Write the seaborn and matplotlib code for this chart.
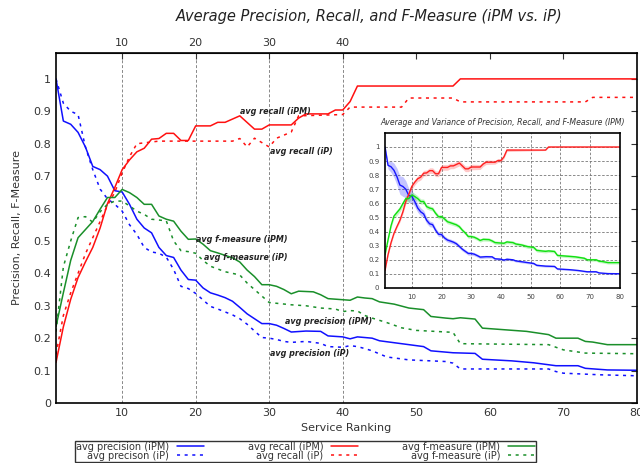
import numpy as np
import matplotlib
matplotlib.use("Agg")
import matplotlib.pyplot as plt
import seaborn as sns

# Values (rank -> value)
rec_ipm_x = [1, 2, 3, 4, 5, 6, 7, 8, 9, 10, 11, 12, 13, 14, 15, 16, 17, 18, 19, 20, 22, 23, 24, 26, 28, 29,
             30, 33, 34, 35, 38, 39, 40, 41, 42, 55, 56, 80]
rec_ipm_y = [0.125, 0.235, 0.32, 0.387, 0.435, 0.48, 0.54, 0.615, 0.665, 0.72, 0.75, 0.775, 0.786, 0.814,
             0.816, 0.832, 0.832, 0.81, 0.81, 0.855, 0.855, 0.866, 0.866, 0.886, 0.845, 0.845, 0.858, 0.858,
             0.879, 0.892, 0.892, 0.904, 0.904, 0.93, 0.978, 0.978, 1.0, 1.0]

rec_ip_x = [1, 2, 3, 4, 5, 6, 7, 8, 9, 10, 11, 12, 15, 25, 26, 27, 28, 30, 31, 33, 34, 40, 41, 48, 49,
            55, 56, 73, 74, 80]
rec_ip_y = [0.15, 0.27, 0.34, 0.4, 0.46, 0.51, 0.56, 0.61, 0.65, 0.71, 0.76, 0.8, 0.808, 0.808, 0.816,
            0.79, 0.817, 0.79, 0.817, 0.836, 0.886, 0.89, 0.913, 0.913, 0.941, 0.941, 0.929, 0.929, 0.943,
            0.943]

prec_ipm_x = [1, 2, 3, 4, 5, 6, 7, 8, 9, 10, 11, 12, 13, 14, 15, 16, 17, 18, 19, 20, 21, 22, 23, 24, 25,
              26, 27, 28, 29, 30, 31, 32, 33, 35, 37, 38, 40, 41, 42, 44, 45, 47, 50, 51, 52, 55, 58, 59,
              63, 66, 69, 72, 73, 76, 80]
prec_ipm_y = [1.0, 0.87, 0.86, 0.835, 0.79, 0.73, 0.72, 0.70, 0.655, 0.651, 0.613, 0.567, 0.54, 0.525,
              0.48, 0.455, 0.449, 0.41, 0.381, 0.379, 0.355, 0.34, 0.333, 0.325, 0.314, 0.295, 0.275,
              0.26, 0.245, 0.245, 0.24, 0.23, 0.219, 0.222, 0.221, 0.207, 0.204, 0.198, 0.204, 0.2,
              0.192, 0.186, 0.177, 0.174, 0.161, 0.155, 0.153, 0.135, 0.13, 0.124, 0.115, 0.115, 0.107,
              0.102, 0.101]

prec_ip_x = [1, 2, 3, 4, 5, 6, 7, 8, 9, 10, 11, 12, 13, 14, 15, 16, 17, 18, 19, 20, 21, 22, 23, 24, 25,
             26, 27, 28, 29, 30, 31, 32, 33, 35, 37, 38, 40, 41, 42, 43, 44, 46, 48, 49, 54, 55, 56, 68,
             69, 70, 75, 80]
prec_ip_y = [1.0, 0.925, 0.9, 0.89, 0.79, 0.72, 0.66, 0.63, 0.613, 0.592, 0.55, 0.52, 0.48, 0.466, 0.462,
             0.45, 0.412, 0.36, 0.353, 0.338, 0.318, 0.298, 0.29, 0.281, 0.272, 0.26, 0.243, 0.222, 0.202,
             0.2, 0.196, 0.19, 0.187, 0.19, 0.184, 0.174, 0.172, 0.177, 0.174, 0.168, 0.161, 0.142, 0.136,
             0.133, 0.128, 0.123, 0.105, 0.105, 0.097, 0.092, 0.087, 0.084]

f_ipm_x = [1, 2, 3, 4, 5, 6, 7, 8, 9, 10, 11, 12, 13, 14, 15, 16, 17, 18, 19, 20, 21, 22, 23, 25, 26, 27,
           28, 29, 30, 31, 32, 33, 34, 36, 37, 38, 41, 42, 43, 44, 45, 47, 49, 51, 52, 54, 55, 56, 58, 59,
           62, 65, 68, 69, 72, 73, 74, 76, 80]
f_ipm_y = [0.236, 0.34, 0.44, 0.51, 0.535, 0.56, 0.598, 0.634, 0.634, 0.659, 0.649, 0.634, 0.613, 0.613,
           0.577, 0.567, 0.561, 0.53, 0.505, 0.506, 0.49, 0.47, 0.463, 0.448, 0.435, 0.41, 0.39, 0.365,
           0.365, 0.36, 0.35, 0.337, 0.345, 0.343, 0.334, 0.322, 0.317, 0.327, 0.324, 0.322, 0.312, 0.305,
           0.293, 0.288, 0.267, 0.262, 0.26, 0.263, 0.259, 0.231, 0.226, 0.221, 0.211, 0.2, 0.2, 0.19,
           0.188, 0.18, 0.18]

f_ip_x = [1, 2, 3, 4, 5, 6, 7, 8, 9, 10, 11, 12, 13, 14, 16, 17, 18, 19, 20, 21, 22, 24, 26, 27, 28, 29,
          30, 33, 35, 37, 39, 40, 41, 42, 43, 44, 46, 48, 50, 55, 56, 68, 70, 73, 80]
f_ip_y = [0.22, 0.42, 0.5, 0.572, 0.575, 0.558, 0.59, 0.613, 0.623, 0.623, 0.608, 0.592, 0.582, 0.567,
          0.562, 0.5, 0.47, 0.467, 0.462, 0.44, 0.422, 0.405, 0.395, 0.37, 0.35, 0.33, 0.31, 0.303, 0.3,
          0.293, 0.29, 0.282, 0.285, 0.284, 0.27, 0.262, 0.248, 0.232, 0.224, 0.218, 0.183, 0.18, 0.164,
          0.154, 0.152]

# spread of the iPM curves (inset bands), read at a few ranks
sd_x = [1, 3, 5, 7, 9, 12, 16, 20, 30, 40, 50, 60, 70, 80]
prec_sd = [0.01, 0.04, 0.06, 0.07, 0.05, 0.03, 0.02, 0.015, 0.012, 0.008, 0.008, 0.006, 0.005, 0.004]
rec_sd = [0.005, 0.01, 0.01, 0.015, 0.02, 0.02, 0.02, 0.02, 0.02, 0.012, 0.004, 0.002, 0.002, 0.002]
f_sd = [0.01, 0.015, 0.02, 0.02, 0.025, 0.02, 0.015, 0.015, 0.012, 0.012, 0.012, 0.01, 0.01, 0.01]

BLUE, RED, GREEN = "#1010ff", "#ff1010", "#1a8f2a"
DOT = (0, (2, 3))

sns.set_style("white")
plt.rcParams["font.family"] = ["DejaVu Sans"]

fig = plt.figure(figsize=(6.4, 4.63), dpi=100)
ax = fig.add_axes([0.0875, 0.1296, 0.9075, 0.756])

series = [
    (prec_ipm_x, prec_ipm_y, BLUE, "-", "avg precision (iPM)"),
    (prec_ip_x, prec_ip_y, BLUE, DOT, "avg precison (iP)"),
    (rec_ipm_x, rec_ipm_y, RED, "-", "avg recall (iPM)"),
    (rec_ip_x, rec_ip_y, RED, DOT, "avg recall (iP)"),
    (f_ipm_x, f_ipm_y, GREEN, "-", "avg f-measure (iPM)"),
    (f_ip_x, f_ip_y, GREEN, DOT, "avg f-measure (iP)"),
]
for xs, ys, c, ls, lab in series:
    sns.lineplot(x=xs, y=ys, color=c, linestyle=ls, lw=1.1, label=lab, errorbar=None, ax=ax)
handles, labels = ax.get_legend_handles_labels()
ax.get_legend().remove()

for xv in [10, 20, 30, 40]:
    ax.axvline(xv, color="#888888", ls=(0, (3, 2)), lw=0.7, zorder=0)

ax.set_xlim(1, 80)
ax.set_ylim(0, 1.08)
ax.set_xticks(range(10, 81, 10))
ax.set_yticks(np.arange(0, 1.01, 0.1))
ax.set_yticklabels(["0", "0.1", "0.2", "0.3", "0.4", "0.5", "0.6", "0.7", "0.8", "0.9", "1"])
ax.tick_params(direction="in", top=False, right=True, labelsize=8, length=4, colors="#333333")
for s in ax.spines.values():
    s.set_color("black")
    s.set_linewidth(1.2)
top = ax.secondary_xaxis("top")
top.set_xticks(range(10, 71, 10))
top.set_xticklabels(["10", "20", "30", "40", "", "", ""])
top.tick_params(direction="in", labelsize=8, length=4, colors="#333333")
ax.set_xlabel("Service Ranking", fontsize=8, color="#333333", labelpad=4)
ax.set_ylabel("Precision, Recall, F-Measure", fontsize=8, color="#333333", labelpad=8)
fig.text(0.577, 0.965, "Average Precision, Recall, and F-Measure (iPM vs. iP)", ha="center", va="center",
         fontsize=10.5, style="italic", color="#222222")

notes = [(26.0, 0.898, "avg recall (iPM)"), (30.1, 0.777, "avg recall (iP)"),
         (20.1, 0.505, "avg f-measure (iPM)"), (21.1, 0.448, "avg f-measure (iP)"),
         (32.1, 0.25, "avg precision (iPM)"), (30.1, 0.152, "avg precision (iP)")]
for nx, ny, t in notes:
    ax.text(nx, ny, t, fontsize=5.8, style="italic", weight="bold", color="#222222", va="center")

# legend, gnuplot style: label then sample
leg = fig.legend(handles, labels, loc="upper left", bbox_to_anchor=(0.117, 0.048), ncol=3,
                 markerfirst=False, fontsize=7, frameon=True, fancybox=False, borderpad=0.1,
                 labelspacing=-0.1, handlelength=2.8, columnspacing=4.5, handletextpad=0.8,
                 borderaxespad=0)
leg.get_frame().set_edgecolor("black")
leg.get_frame().set_linewidth(1.0)
for t in leg.get_texts():
    t.set_color("#333333")

# inset: average and variance of the iPM curves
ax_in = fig.add_axes([0.6016, 0.378, 0.367, 0.335])
inset = [(prec_ipm_x, prec_ipm_y, prec_sd, "#1515ff"),
         (rec_ipm_x, rec_ipm_y, rec_sd, "#ff2020"),
         (f_ipm_x, f_ipm_y, f_sd, "#10e010")]
for xs, ys, sd, c in inset:
    w = np.interp(xs, sd_x, sd)
    ax_in.fill_between(xs, np.array(ys) - w, np.array(ys) + w, color=c, alpha=0.25, lw=0)
    sns.lineplot(x=xs, y=ys, color=c, lw=1.0, errorbar=None, ax=ax_in)
ax_in.set_xlim(1, 80)
ax_in.set_ylim(0, 1.1)
ax_in.set_xticks(range(10, 81, 10))
ax_in.set_yticks(np.arange(0, 1.01, 0.1))
ax_in.set_yticklabels(["0", "0.1", "0.2", "0.3", "0.4", "0.5", "0.6", "0.7", "0.8", "0.9", "1"])
ax_in.grid(True, color="#777777", ls=(0, (3, 2)), lw=0.6)
ax_in.tick_params(direction="in", labelsize=5, length=2, colors="#444444", pad=4)
for s in ax_in.spines.values():
    s.set_color("black")
    s.set_linewidth(1.2)
ax_in.set_title("Average and Variance of Precision, Recall, and F-Measure (IPM)", fontsize=5.6,
                style="italic", color="#333333", pad=6)

fig.savefig("out.png", dpi=100)
